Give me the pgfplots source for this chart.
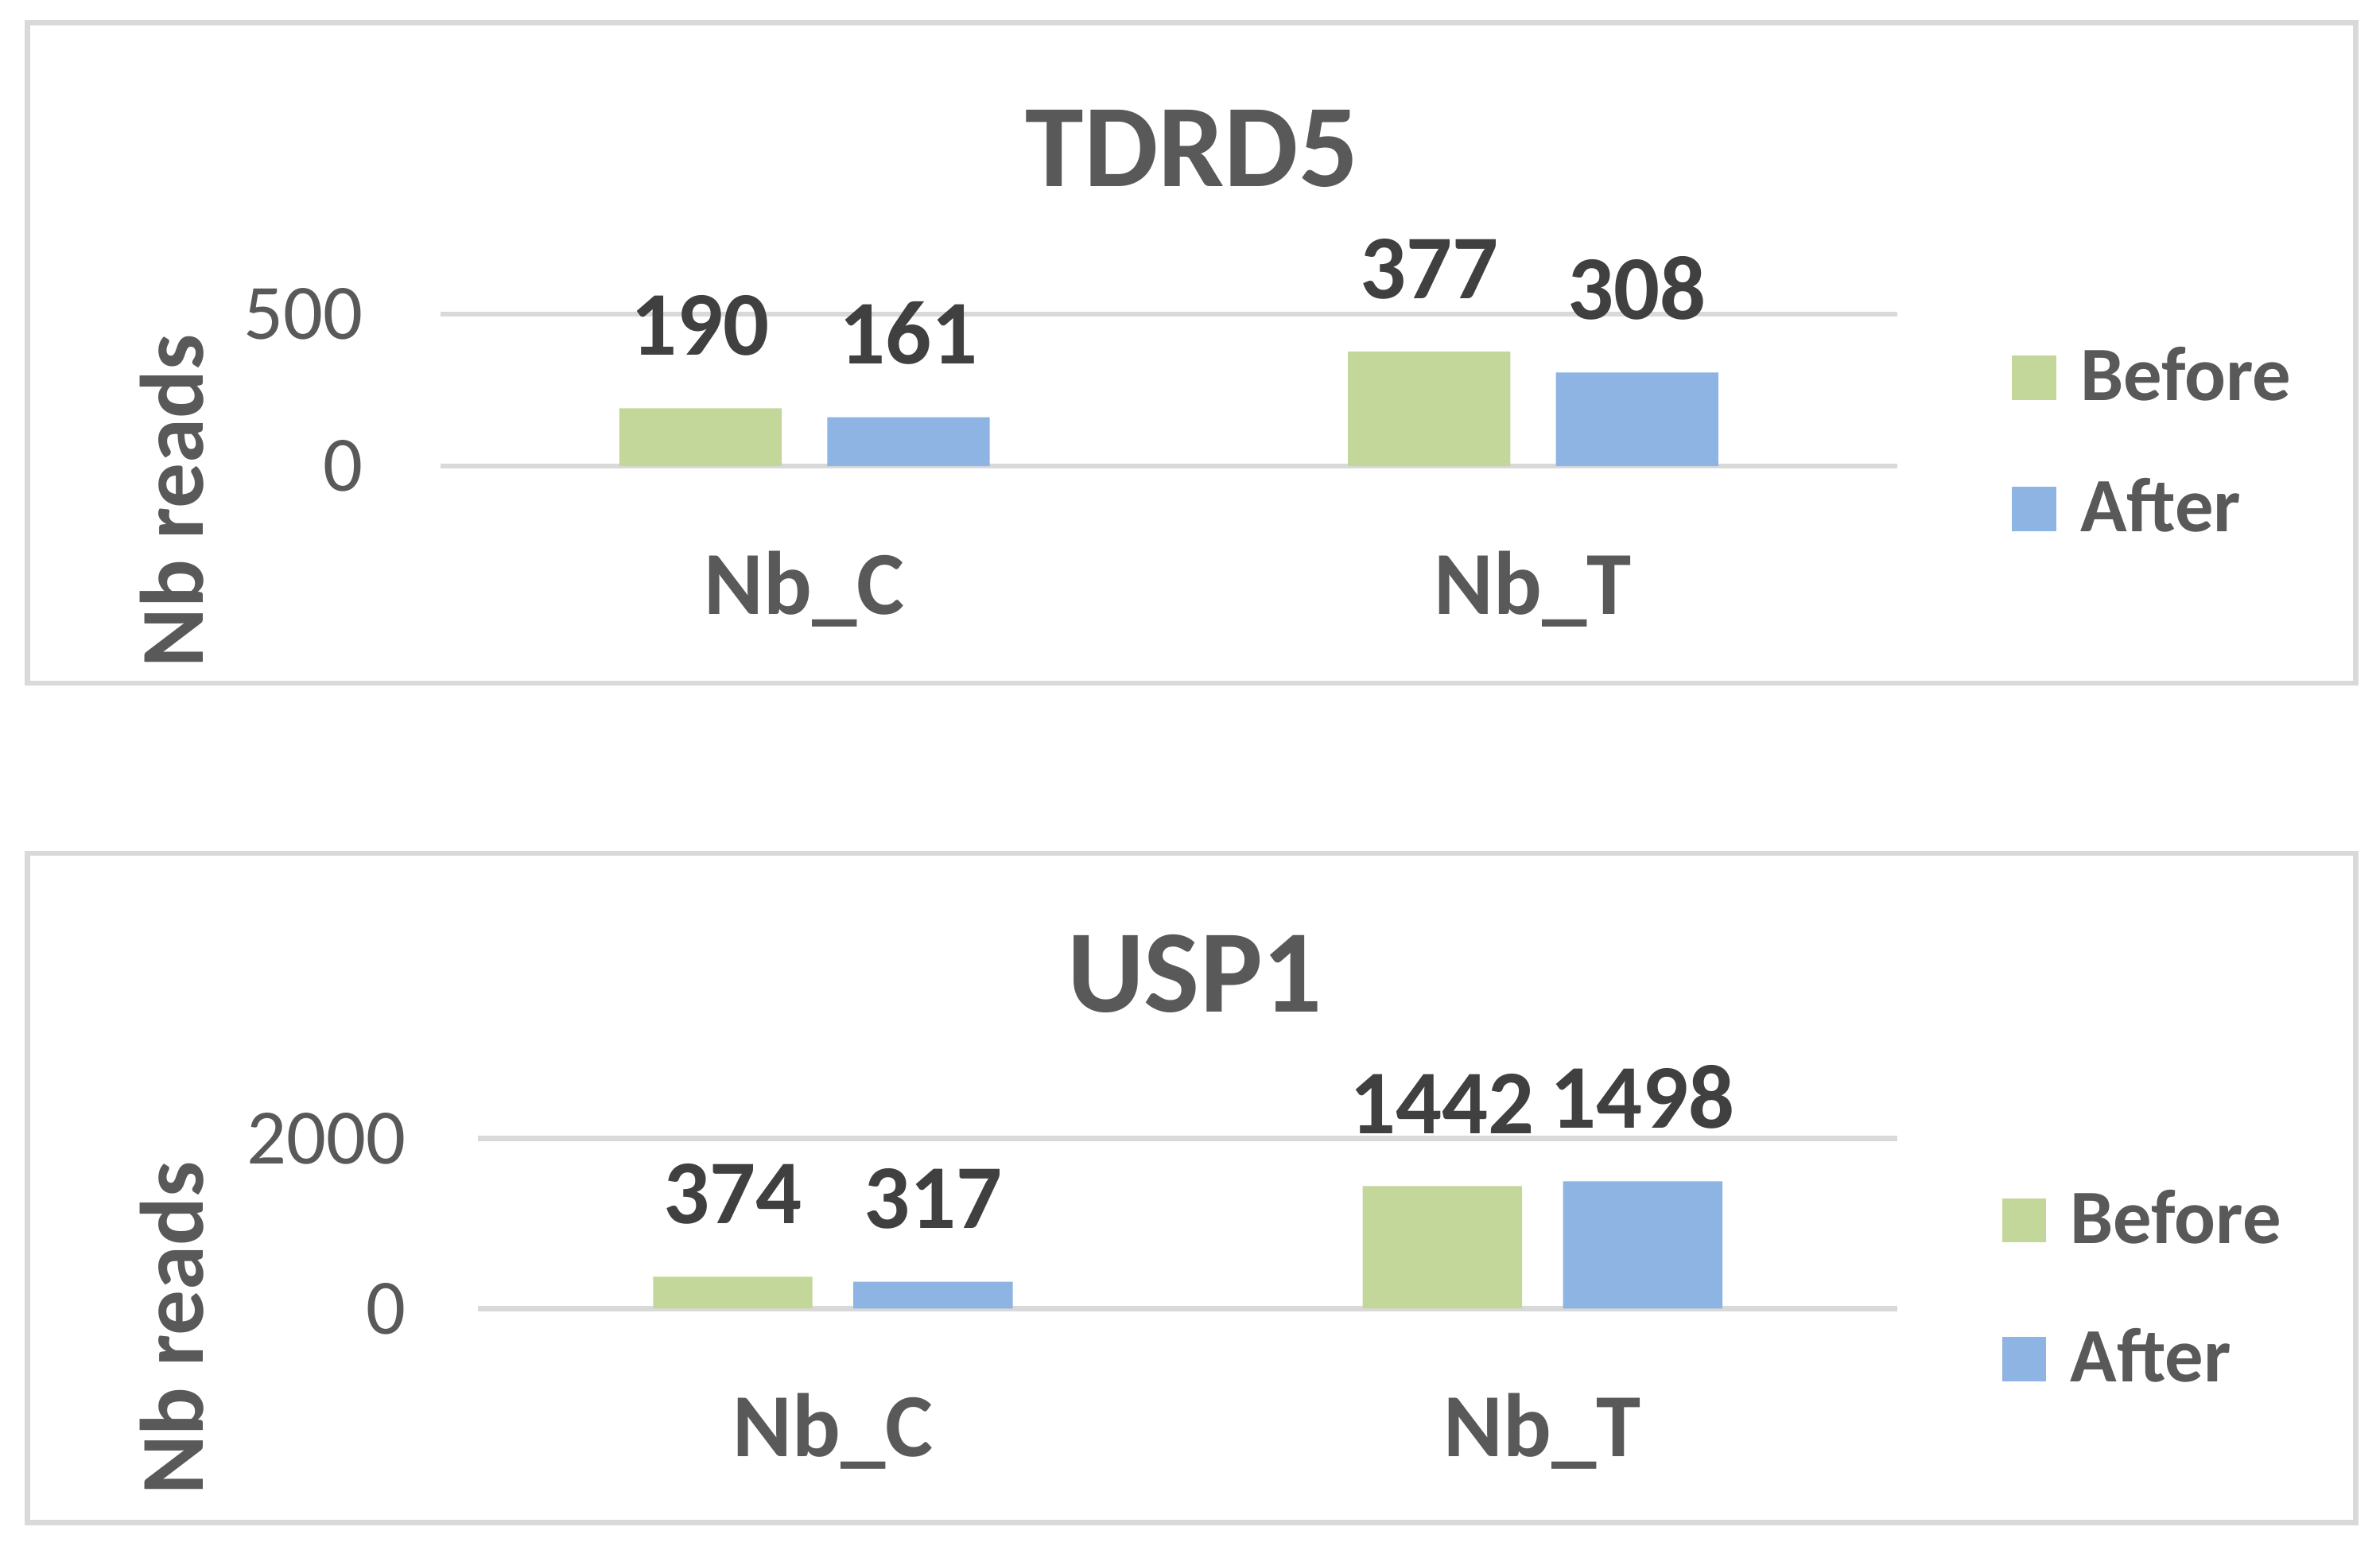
\documentclass[border=0pt]{standalone}
\usepackage{fontspec}
\setmainfont{Carlito}
\usepackage{xcolor}
\definecolor{txt}{HTML}{595959}
\definecolor{lbl}{HTML}{404040}
\definecolor{grd}{HTML}{D9D9D9}
\definecolor{before}{HTML}{C4D79B}
\definecolor{after}{HTML}{8EB4E3}
\usepackage{pgfplots}
\pgfplotsset{compat=1.18}
\pgfplotsset{
  panel/.style={
    scale only axis, xmin=-0.5, xmax=1.5, ymin=0,
    xtick={0,1}, xticklabels={Nb\_C,Nb\_T},
    axis line style={draw=none}, tick style={draw=none},
    ymajorgrids, grid style={draw=grd, line width=1pt},
    /pgf/number format/assume math mode=true,
    /pgf/number format/1000 sep={},
    yticklabel style={font=\fontsize{15.5}{18}\selectfont, text=txt, anchor=east, inner sep=0pt},
    xticklabel style={font=\bfseries\fontsize{17.8}{21}\selectfont, text=txt, anchor=north, inner sep=0pt, yshift=-12.3pt},
    title style={font=\bfseries\fontsize{23.3}{28}\selectfont, text=txt, anchor=center},
    ylabel style={font=\bfseries\fontsize{17.8}{21}\selectfont, text=txt, anchor=center},
    nodes near coords,
    every node near coord/.append style={font=\bfseries\fontsize{18}{21}\selectfont, text=lbl, anchor=south, inner sep=0pt, yshift=10.2pt},
    legend style={draw=none, fill=none, inner sep=0pt, nodes={inner sep=0pt},
      font=\bfseries\fontsize{15.2}{18}\selectfont, text=txt, anchor=north west,
      cells={anchor=west}, /tikz/every odd column/.style={column sep=4.8pt}},
    clip=false,
  },
  sq/.style={legend image code/.code={\fill[##1] (0pt,-4.35pt) rectangle (8.7pt,4.35pt);}},
}
\begin{document}
\begin{tikzpicture}
\useasboundingbox (0pt,0pt) rectangle (470.4pt,306.3pt);
\draw[grd, line width=1pt] (5.4pt,171.3pt) rectangle (465.6pt,301.8pt);
\draw[grd, line width=1pt] (5.4pt,5.4pt) rectangle (465.6pt,137.7pt);

% TDRD5
\begin{axis}[panel, at={(87pt,214.2pt)}, anchor=south west,
  width=288pt, height=30pt, ymax=500, ytick={0,500},
  ybar=9pt, bar width=32.1pt,
  yticklabel style={xshift=-15pt},
  title={TDRD5}, title style={at={(axis description cs:0.516,1.89)}},
  ylabel={Nb reads}, ylabel style={at={(axis description cs:-0.184,-0.23)}},
  legend style={at={(axis description cs:1.078,0.79)}, row sep=13.9pt},
]
\addplot[fill=before, draw=none, sq] coordinates {(0,190) (1,377)};
\addplot[fill=after, draw=none, sq] coordinates {(0,161) (1,308)};
\legend{Before,After}
\end{axis}

% USP1
\begin{axis}[panel, at={(94.5pt,47.7pt)}, anchor=south west,
  width=280.5pt, height=33.6pt, ymax=2000, ytick={0,2000},
  ybar=8.1pt, bar width=31.5pt,
  yticklabel style={xshift=-14pt},
  title={USP1}, title style={at={(axis description cs:0.505,1.79)}},
  ylabel={Nb reads}, ylabel style={at={(axis description cs:-0.216,-0.116)}},
  legend style={at={(axis description cs:1.073,0.705)}, row sep=15.4pt},
]
\addplot[fill=before, draw=none, sq] coordinates {(0,374) (1,1442)};
\addplot[fill=after, draw=none, sq] coordinates {(0,317) (1,1498)};
\legend{Before,After}
\end{axis}
\end{tikzpicture}
\end{document}
